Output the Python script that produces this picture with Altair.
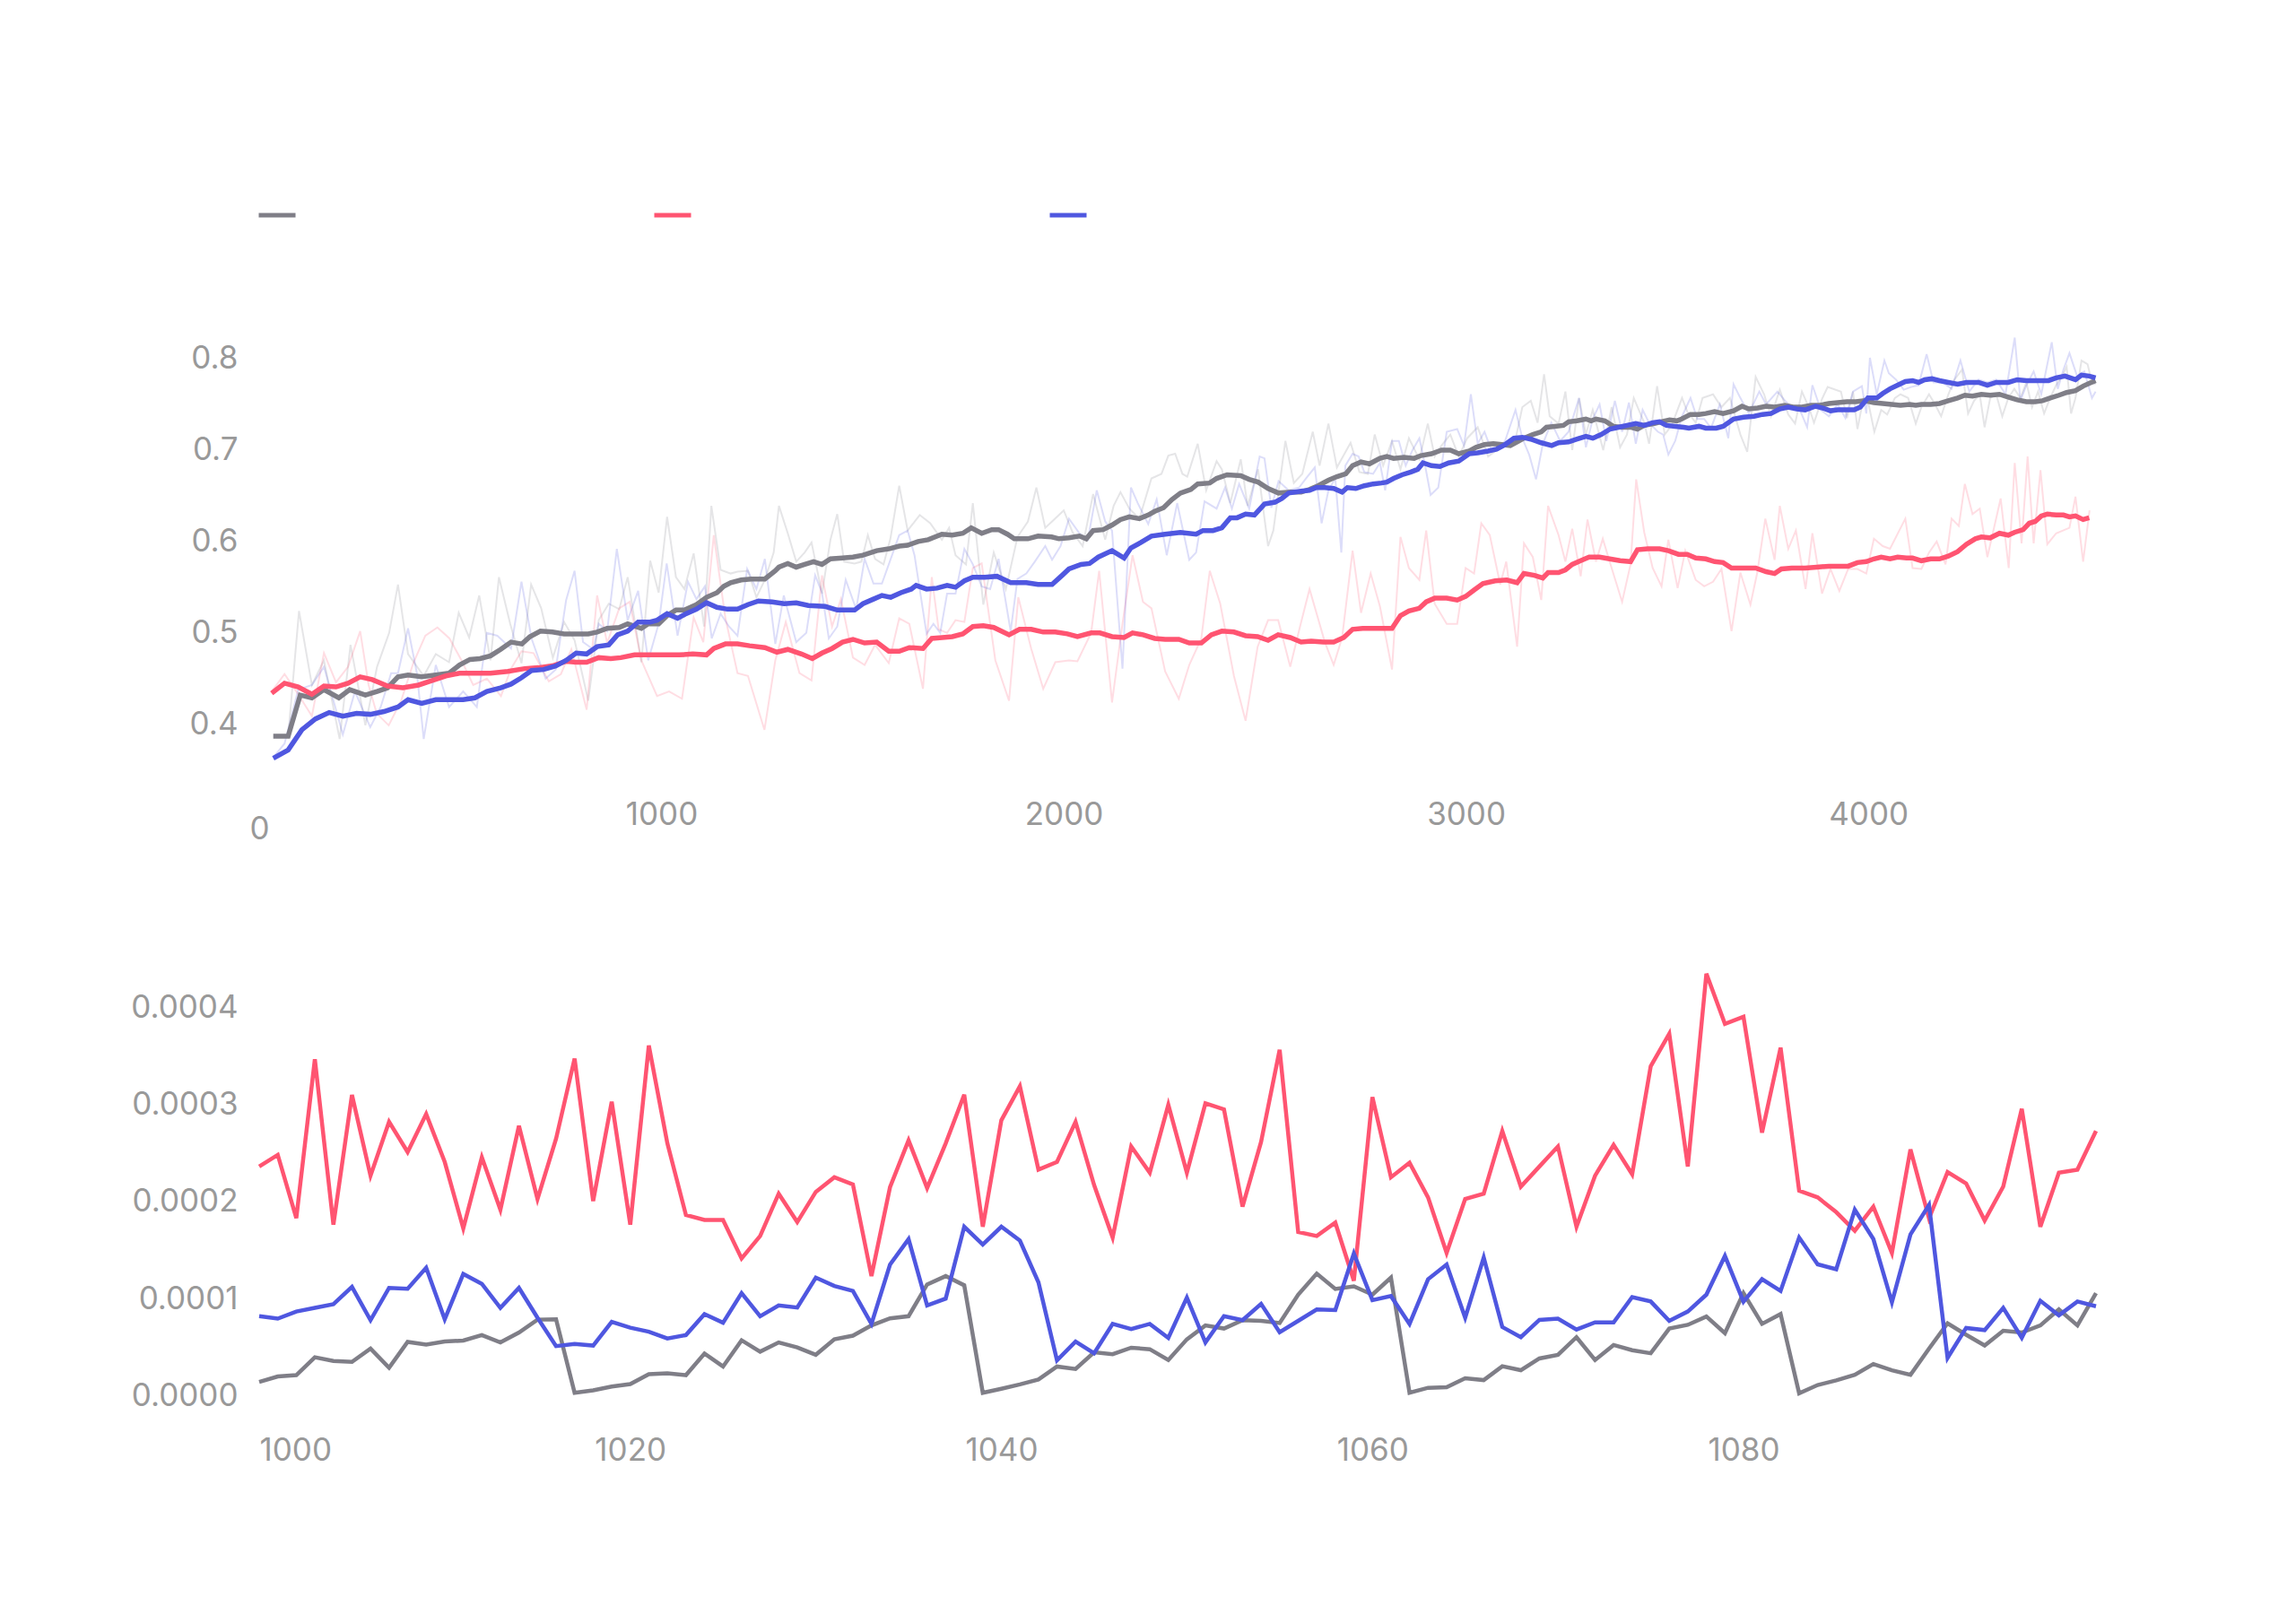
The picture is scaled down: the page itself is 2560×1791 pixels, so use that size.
import altair as alt
import pandas as pd

# ---------------------------------------------------------------------------
# Runs and colours
# ---------------------------------------------------------------------------
RUNS = ["run-1", "run-2", "run-3"]
COLORS = ["#7f7e87", "#ff5471", "#4f57e0"]

# ---------------------------------------------------------------------------
# Top panel: smoothed curves (step, value)
# ---------------------------------------------------------------------------
SMOOTH_1_STEP = [35, 72, 102, 131, 161, 198, 225, 264, 293, 319, 345, 370, 404, 439, 472, 498, 524, 549, 575, 600,
                 626, 653, 673, 699, 729, 758, 788, 818, 840, 865, 895, 916, 950, 967, 993, 1014, 1036, 1057, 1087, 1112,
                 1138, 1155, 1172, 1198, 1223, 1257, 1283, 1292, 1314, 1335, 1356, 1378, 1399, 1420, 1450, 1476, 1501,
                 1535, 1565, 1591, 1612, 1638, 1663, 1697, 1723, 1749, 1770, 1796, 1821, 1838, 1860, 1877, 1911, 1936,
                 1970, 1988, 2013, 2039, 2056, 2073, 2098, 2120, 2141, 2163, 2188, 2210, 2226, 2248, 2269, 2290, 2316,
                 2333, 2363, 2380, 2406, 2440, 2461, 2483, 2508, 2534, 2564, 2590, 2611, 2632, 2658, 2679, 2701, 2718,
                 2739, 2760, 2786, 2803, 2820, 2846, 2871, 2888, 2914, 2939, 2961, 2982, 3008, 3025, 3046, 3068, 3089,
                 3110, 3127, 3144, 3166, 3187, 3200, 3221, 3242, 3255, 3276, 3298, 3311, 3323, 3345, 3366, 3387, 3409,
                 3426, 3443, 3468, 3485, 3506, 3524, 3536, 3558, 3579, 3596, 3618, 3639, 3665, 3686, 3703, 3725, 3746,
                 3767, 3793, 3813, 3835, 3858, 3880, 3902, 3924, 3947, 3969, 3991, 4014, 4036, 4058, 4080, 4103, 4118,
                 4132, 4155, 4177, 4199, 4222, 4240, 4259, 4281, 4303, 4326, 4348, 4370, 4393, 4415, 4433, 4452, 4474,
                 4493, 4515, 4534, 4549, 4565]
SMOOTH_1_VAL = [0.387, 0.387, 0.432, 0.429, 0.438, 0.429, 0.438, 0.432, 0.436, 0.440, 0.452, 0.454, 0.452, 0.454,
                0.456, 0.465, 0.471, 0.472, 0.475, 0.482, 0.490, 0.488, 0.496, 0.502, 0.501, 0.499, 0.499, 0.499,
                0.501, 0.505, 0.506, 0.510, 0.505, 0.510, 0.510, 0.519, 0.525, 0.525, 0.531, 0.539, 0.544, 0.551,
                0.555, 0.558, 0.559, 0.559, 0.568, 0.572, 0.576, 0.572, 0.575, 0.578, 0.575, 0.581, 0.582, 0.583,
                0.585, 0.590, 0.592, 0.595, 0.596, 0.600, 0.602, 0.608, 0.607, 0.609, 0.615, 0.609, 0.613, 0.613,
                0.608, 0.603, 0.603, 0.606, 0.605, 0.603, 0.604, 0.606, 0.603, 0.612, 0.613, 0.618, 0.624, 0.627,
                0.625, 0.629, 0.633, 0.637, 0.646, 0.653, 0.657, 0.663, 0.664, 0.669, 0.673, 0.672, 0.668, 0.665,
                0.658, 0.653, 0.654, 0.654, 0.657, 0.661, 0.667, 0.671, 0.674, 0.683, 0.687, 0.685, 0.691, 0.693,
                0.691, 0.692, 0.691, 0.694, 0.696, 0.700, 0.700, 0.696, 0.699, 0.703, 0.706, 0.707, 0.706, 0.705,
                0.709, 0.713, 0.717, 0.720, 0.725, 0.726, 0.727, 0.731, 0.732, 0.734, 0.732, 0.734, 0.732, 0.726,
                0.725, 0.725, 0.723, 0.727, 0.729, 0.731, 0.733, 0.732, 0.734, 0.739, 0.739, 0.740, 0.742, 0.740,
                0.743, 0.748, 0.745, 0.746, 0.748, 0.747, 0.749, 0.747, 0.747, 0.749, 0.749, 0.751, 0.752, 0.753,
                0.753, 0.754, 0.752, 0.751, 0.750, 0.749, 0.750, 0.749, 0.750, 0.750, 0.751, 0.754, 0.757, 0.760,
                0.759, 0.761, 0.760, 0.761, 0.758, 0.755, 0.753, 0.753, 0.754, 0.757, 0.760, 0.763, 0.765, 0.770,
                0.773, 0.776]

SMOOTH_2_STEP = [31, 63, 97, 131, 161, 191, 221, 251, 281, 319, 357, 396, 430, 464, 498, 541, 575, 618, 660, 694,
                 729, 763, 788, 814, 844, 874, 899, 933, 967, 1002, 1044, 1078, 1112, 1130, 1159, 1189, 1219, 1257,
                 1287, 1314, 1348, 1375, 1399, 1424, 1450, 1476, 1505, 1535, 1565, 1591, 1616, 1650, 1672, 1698, 1723,
                 1749, 1774, 1800, 1826, 1864, 1890, 1919, 1949, 1979, 2009, 2034, 2068, 2090, 2120, 2150, 2171, 2197,
                 2226, 2252, 2286, 2312, 2342, 2367, 2393, 2423, 2452, 2482, 2508, 2533, 2563, 2590, 2615, 2645, 2671,
                 2696, 2718, 2743, 2777, 2816, 2837, 2858, 2884, 2901, 2922, 2952, 2978, 2999, 3020, 3042, 3072, 3101,
                 3127, 3144, 3170, 3191, 3204, 3230, 3247, 3264, 3285, 3306, 3332, 3357, 3383, 3409, 3426, 3452, 3481,
                 3503, 3528, 3550, 3571, 3596, 3618, 3639, 3660, 3690, 3720, 3746, 3767, 3784, 3810, 3843, 3872, 3902,
                 3924, 3950, 3973, 3995, 4014, 4032, 4054, 4073, 4095, 4110, 4132, 4155, 4177, 4199, 4222, 4244, 4266,
                 4281, 4303, 4326, 4348, 4363, 4385, 4400, 4415, 4430, 4445, 4467, 4485, 4500, 4515, 4534, 4549]
SMOOTH_2_VAL = [0.434, 0.445, 0.441, 0.433, 0.442, 0.441, 0.445, 0.452, 0.449, 0.442, 0.440, 0.443, 0.448, 0.453,
                0.456, 0.456, 0.456, 0.458, 0.461, 0.462, 0.464, 0.469, 0.468, 0.468, 0.473, 0.472, 0.473, 0.476,
                0.476, 0.476, 0.476, 0.477, 0.476, 0.483, 0.488, 0.488, 0.486, 0.484, 0.479, 0.482, 0.477, 0.472,
                0.478, 0.483, 0.490, 0.493, 0.489, 0.490, 0.480, 0.480, 0.484, 0.483, 0.494, 0.495, 0.496, 0.499,
                0.507, 0.508, 0.506, 0.498, 0.504, 0.504, 0.501, 0.501, 0.499, 0.496, 0.500, 0.500, 0.496, 0.495,
                0.500, 0.498, 0.494, 0.493, 0.493, 0.489, 0.489, 0.498, 0.502, 0.501, 0.497, 0.496, 0.492, 0.498,
                0.495, 0.490, 0.491, 0.490, 0.490, 0.495, 0.504, 0.505, 0.505, 0.505, 0.519, 0.524, 0.527, 0.534,
                0.538, 0.538, 0.536, 0.540, 0.547, 0.554, 0.557, 0.558, 0.555, 0.565, 0.563, 0.560, 0.566, 0.566,
                0.569, 0.575, 0.579, 0.583, 0.583, 0.581, 0.579, 0.578, 0.591, 0.592, 0.592, 0.590, 0.586, 0.586,
                0.582, 0.581, 0.578, 0.577, 0.571, 0.571, 0.571, 0.567, 0.565, 0.570, 0.571, 0.571, 0.572, 0.573,
                0.573, 0.573, 0.577, 0.578, 0.581, 0.583, 0.581, 0.583, 0.582, 0.582, 0.579, 0.581, 0.581, 0.584,
                0.589, 0.597, 0.603, 0.605, 0.604, 0.609, 0.607, 0.610, 0.613, 0.620, 0.622, 0.628, 0.630, 0.629,
                0.629, 0.627, 0.628, 0.624, 0.626]

SMOOTH_3_STEP = [35, 72, 106, 140, 174, 208, 242, 276, 310, 345, 370, 404, 439, 472, 507, 536, 566, 600, 626, 652,
                 677, 707, 737, 763, 788, 814, 840, 869, 891, 916, 942, 972, 989, 1014, 1040, 1061, 1087, 1112, 1138,
                 1164, 1189, 1215, 1241, 1275, 1305, 1335, 1365, 1407, 1437, 1480, 1501, 1527, 1548, 1570, 1595, 1621,
                 1633, 1659, 1685, 1710, 1731, 1753, 1774, 1804, 1834, 1868, 1907, 1936, 1971, 1996, 2013, 2043, 2064,
                 2086, 2120, 2150, 2167, 2192, 2218, 2252, 2290, 2329, 2346, 2371, 2393, 2414, 2431, 2452, 2474, 2499,
                 2525, 2542, 2559, 2590, 2611, 2628, 2649, 2671, 2692, 2705, 2726, 2747, 2769, 2790, 2803, 2820, 2841,
                 2863, 2880, 2893, 2914, 2935, 2957, 2982, 3008, 3029, 3055, 3076, 3097, 3119, 3140, 3161, 3187, 3213,
                 3230, 3255, 3276, 3298, 3315, 3336, 3358, 3379, 3400, 3422, 3443, 3464, 3481, 3498, 3520, 3541, 3554,
                 3579, 3596, 3622, 3639, 3665, 3690, 3716, 3737, 3758, 3780, 3801, 3822, 3843, 3869, 3887, 3906, 3924,
                 3947, 3965, 3980, 3999, 4021, 4036, 4054, 4073, 4092, 4110, 4125, 4140, 4158, 4177, 4199, 4222, 4244,
                 4274, 4296, 4318, 4348, 4370, 4393, 4407, 4430, 4448, 4467, 4489, 4515, 4530, 4549, 4565]
SMOOTH_3_VAL = [0.363, 0.372, 0.394, 0.406, 0.413, 0.409, 0.412, 0.411, 0.414, 0.419, 0.427, 0.423, 0.427, 0.427,
                0.427, 0.429, 0.436, 0.440, 0.444, 0.451, 0.459, 0.460, 0.464, 0.470, 0.478, 0.477, 0.485, 0.487,
                0.498, 0.502, 0.512, 0.512, 0.514, 0.521, 0.516, 0.521, 0.526, 0.533, 0.528, 0.526, 0.526, 0.531,
                0.535, 0.534, 0.532, 0.533, 0.530, 0.529, 0.525, 0.525, 0.532, 0.537, 0.541, 0.539, 0.544, 0.548,
                0.552, 0.548, 0.549, 0.552, 0.550, 0.557, 0.561, 0.561, 0.562, 0.555, 0.555, 0.553, 0.553, 0.563,
                0.570, 0.575, 0.576, 0.583, 0.590, 0.582, 0.593, 0.599, 0.606, 0.608, 0.610, 0.608, 0.612, 0.612,
                0.615, 0.626, 0.626, 0.630, 0.629, 0.641, 0.643, 0.647, 0.653, 0.655, 0.656, 0.659, 0.659, 0.658,
                0.654, 0.659, 0.658, 0.661, 0.663, 0.664, 0.665, 0.669, 0.673, 0.676, 0.679, 0.686, 0.683, 0.682,
                0.686, 0.688, 0.696, 0.697, 0.699, 0.701, 0.706, 0.713, 0.714, 0.712, 0.708, 0.705, 0.708, 0.709,
                0.712, 0.715, 0.713, 0.717, 0.723, 0.725, 0.727, 0.729, 0.727, 0.730, 0.731, 0.727, 0.726, 0.725,
                0.724, 0.726, 0.724, 0.724, 0.726, 0.734, 0.736, 0.737, 0.739, 0.740, 0.745, 0.747, 0.745, 0.744,
                0.748, 0.746, 0.743, 0.744, 0.744, 0.744, 0.747, 0.757, 0.757, 0.762, 0.767, 0.771, 0.775, 0.776,
                0.774, 0.777, 0.778, 0.776, 0.774, 0.772, 0.774, 0.774, 0.771, 0.774, 0.774, 0.777, 0.776, 0.776,
                0.776, 0.776, 0.779, 0.781, 0.777, 0.782, 0.781, 0.779]

# ---------------------------------------------------------------------------
# Top panel: raw (unsmoothed) values (step, value)
# ---------------------------------------------------------------------------
RAW_1_STEP = [39, 72, 99, 131, 161, 200, 227, 264, 293, 323, 345, 370, 409, 439, 472, 496, 522, 547, 575, 596, 624,
              652, 676, 701, 730, 758, 784, 818, 844, 869, 895, 916, 950, 972, 993, 1014, 1036, 1057, 1080, 1106, 1124,
              1147, 1172, 1189, 1215, 1236, 1257, 1279, 1292, 1314, 1335, 1356, 1373, 1399, 1420, 1437, 1454, 1480,
              1497, 1513, 1531, 1552, 1569, 1591, 1612, 1642, 1668, 1697, 1715, 1731, 1757, 1774, 1800, 1826, 1856,
              1885, 1911, 1932, 1954, 1971, 2000, 2022, 2047, 2073, 2103, 2124, 2141, 2163, 2188, 2218, 2243, 2260,
              2277, 2295, 2307, 2333, 2354, 2380, 2393, 2414, 2440, 2457, 2483, 2508, 2521, 2551, 2572, 2593, 2619,
              2636, 2658, 2679, 2713, 2735, 2756, 2773, 2794, 2816, 2837, 2858, 2884, 2905, 2922, 2939, 2961, 2982,
              3003, 3029, 3055, 3076, 3097, 3123, 3140, 3161, 3178, 3194, 3208, 3230, 3247, 3264, 3281, 3298, 3315,
              3341, 3362, 3383, 3400, 3417, 3443, 3455, 3475, 3494, 3511, 3537, 3550, 3571, 3588, 3614, 3635, 3656,
              3682, 3699, 3720, 3741, 3758, 3780, 3801, 3818, 3835, 3852, 3865, 3885, 3899, 3932, 3947, 3962, 3973,
              3988, 3999, 4015, 4032, 4047, 4066, 4080, 4099, 4118, 4132, 4151, 4166, 4181, 4199, 4214, 4233, 4248,
              4263, 4277, 4289, 4303, 4318, 4333, 4348, 4363, 4378, 4393, 4407, 4422, 4437, 4452, 4467, 4482, 4493,
              4504, 4515, 4530, 4545, 4556, 4565]
RAW_1_VAL = [0.387, 0.387, 0.524, 0.443, 0.470, 0.384, 0.487, 0.399, 0.463, 0.500, 0.553, 0.477, 0.453, 0.477, 0.468,
             0.522, 0.495, 0.541, 0.470, 0.561, 0.510, 0.467, 0.553, 0.527, 0.473, 0.512, 0.492, 0.426, 0.514, 0.532,
             0.526, 0.561, 0.468, 0.579, 0.544, 0.627, 0.561, 0.548, 0.587, 0.507, 0.639, 0.569, 0.565, 0.567, 0.568,
             0.539, 0.558, 0.588, 0.639, 0.609, 0.578, 0.588, 0.599, 0.543, 0.602, 0.630, 0.578, 0.576, 0.578, 0.607,
             0.581, 0.575, 0.603, 0.661, 0.612, 0.629, 0.620, 0.602, 0.615, 0.585, 0.575, 0.642, 0.531, 0.588, 0.548,
             0.605, 0.622, 0.659, 0.615, 0.622, 0.634, 0.610, 0.595, 0.652, 0.602, 0.639, 0.654, 0.636, 0.625, 0.669,
             0.674, 0.694, 0.696, 0.674, 0.671, 0.707, 0.656, 0.688, 0.679, 0.642, 0.690, 0.639, 0.679, 0.595, 0.612,
             0.710, 0.664, 0.674, 0.720, 0.683, 0.729, 0.681, 0.708, 0.676, 0.674, 0.717, 0.683, 0.710, 0.679, 0.713,
             0.690, 0.729, 0.693, 0.705, 0.717, 0.693, 0.713, 0.725, 0.693, 0.700, 0.707, 0.712, 0.747, 0.754, 0.730,
             0.783, 0.737, 0.729, 0.764, 0.700, 0.757, 0.717, 0.744, 0.700, 0.747, 0.703, 0.717, 0.757, 0.730, 0.707,
             0.770, 0.717, 0.727, 0.757, 0.742, 0.730, 0.757, 0.761, 0.747, 0.757, 0.717, 0.698, 0.780, 0.761, 0.737,
             0.766, 0.739, 0.729, 0.764, 0.747, 0.730, 0.756, 0.769, 0.764, 0.735, 0.764, 0.723, 0.757, 0.754, 0.720,
             0.744, 0.739, 0.757, 0.761, 0.757, 0.729, 0.747, 0.761, 0.750, 0.737, 0.761, 0.777, 0.788, 0.740, 0.754,
             0.761, 0.725, 0.757, 0.761, 0.737, 0.757, 0.767, 0.757, 0.774, 0.747, 0.764, 0.740, 0.757, 0.771, 0.781,
             0.791, 0.740, 0.757, 0.798, 0.794, 0.774, 0.772]

RAW_2_STEP = [31, 63, 97, 131, 161, 191, 221, 251, 272, 292, 322, 353, 383, 413, 443, 473, 503, 532, 566, 601, 626,
              652, 682, 720, 750, 776, 814, 840, 865, 895, 921, 950, 989, 1019, 1051, 1080, 1104, 1130, 1159, 1189,
              1215, 1256, 1283, 1309, 1343, 1373, 1399, 1424, 1446, 1476, 1505, 1531, 1565, 1591, 1616, 1650, 1672,
              1689, 1710, 1731, 1753, 1774, 1796, 1830, 1864, 1887, 1919, 1949, 1979, 2013, 2034, 2068, 2088, 2120,
              2146, 2171, 2197, 2218, 2252, 2286, 2312, 2342, 2363, 2389, 2423, 2452, 2482, 2508, 2533, 2563, 2589,
              2611, 2632, 2649, 2671, 2692, 2718, 2739, 2763, 2786, 2816, 2837, 2858, 2884, 2901, 2922, 2952, 2978,
              2999, 3020, 3038, 3059, 3085, 3100, 3127, 3144, 3166, 3187, 3204, 3230, 3247, 3264, 3285, 3302, 3323,
              3340, 3357, 3388, 3409, 3423, 3443, 3464, 3486, 3503, 3526, 3545, 3571, 3592, 3614, 3635, 3660, 3682,
              3707, 3724, 3744, 3767, 3780, 3801, 3820, 3844, 3861, 3885, 3906, 3928, 3950, 3973, 3995, 4014, 4036,
              4054, 4092, 4110, 4132, 4151, 4170, 4192, 4207, 4225, 4240, 4259, 4277, 4296, 4329, 4349, 4364, 4381,
              4396, 4411, 4428, 4445, 4467, 4500, 4515, 4534, 4550]
RAW_2_VAL = [0.436, 0.455, 0.433, 0.409, 0.478, 0.446, 0.463, 0.502, 0.443, 0.412, 0.399, 0.426, 0.467, 0.497, 0.506,
             0.494, 0.470, 0.443, 0.450, 0.431, 0.461, 0.480, 0.478, 0.447, 0.455, 0.482, 0.416, 0.541, 0.489, 0.527,
             0.534, 0.470, 0.431, 0.436, 0.428, 0.517, 0.490, 0.607, 0.516, 0.456, 0.453, 0.394, 0.470, 0.512, 0.456,
             0.448, 0.563, 0.507, 0.537, 0.473, 0.465, 0.487, 0.467, 0.516, 0.510, 0.439, 0.561, 0.504, 0.500, 0.514,
             0.512, 0.571, 0.576, 0.470, 0.426, 0.539, 0.483, 0.439, 0.468, 0.470, 0.469, 0.500, 0.568, 0.424, 0.510,
             0.585, 0.534, 0.527, 0.458, 0.428, 0.465, 0.494, 0.568, 0.532, 0.453, 0.404, 0.485, 0.514, 0.514, 0.463,
             0.510, 0.548, 0.516, 0.490, 0.465, 0.495, 0.590, 0.522, 0.565, 0.529, 0.460, 0.605, 0.571, 0.558, 0.612,
             0.532, 0.510, 0.510, 0.571, 0.565, 0.620, 0.607, 0.553, 0.578, 0.485, 0.598, 0.583, 0.536, 0.639, 0.607,
             0.578, 0.614, 0.562, 0.624, 0.578, 0.603, 0.578, 0.534, 0.575, 0.668, 0.610, 0.571, 0.551, 0.602, 0.549,
             0.590, 0.558, 0.551, 0.556, 0.570, 0.502, 0.566, 0.531, 0.566, 0.625, 0.580, 0.639, 0.592, 0.612, 0.548,
             0.609, 0.543, 0.570, 0.546, 0.570, 0.570, 0.565, 0.603, 0.595, 0.592, 0.625, 0.571, 0.570, 0.588, 0.600,
             0.575, 0.625, 0.617, 0.663, 0.630, 0.636, 0.583, 0.647, 0.571, 0.686, 0.598, 0.693, 0.598, 0.678, 0.597,
             0.609, 0.615, 0.649, 0.578, 0.634]

RAW_3_STEP = [37, 63, 97, 131, 161, 191, 208, 238, 276, 302, 328, 345, 370, 392, 409, 439, 472, 507, 541, 566, 592,
              626, 652, 677, 712, 737, 763, 784, 805, 831, 844, 865, 889, 916, 942, 967, 993, 1013, 1040, 1066, 1087,
              1108, 1125, 1147, 1168, 1189, 1213, 1236, 1257, 1283, 1304, 1335, 1360, 1382, 1399, 1416, 1437, 1458,
              1484, 1505, 1527, 1548, 1574, 1591, 1612, 1629, 1659, 1676, 1693, 1710, 1731, 1753, 1774, 1796, 1817,
              1838, 1868, 1885, 1907, 1928, 1954, 1971, 1992, 2013, 2039, 2060, 2082, 2103, 2120, 2146, 2167, 2184,
              2210, 2231, 2256, 2282, 2312, 2329, 2350, 2380, 2401, 2418, 2436, 2461, 2487, 2499, 2516, 2534, 2559,
              2585, 2602, 2624, 2641, 2658, 2675, 2690, 2700, 2718, 2733, 2747, 2769, 2786, 2799, 2816, 2833, 2850,
              2867, 2884, 2897, 2912, 2931, 2952, 2978, 2995, 3012, 3029, 3046, 3063, 3080, 3097, 3123, 3140, 3157,
              3174, 3191, 3212, 3234, 3255, 3281, 3298, 3315, 3332, 3349, 3370, 3388, 3405, 3422, 3439, 3455, 3477,
              3490, 3503, 3520, 3537, 3558, 3575, 3592, 3609, 3631, 3652, 3665, 3682, 3703, 3729, 3746, 3774, 3793,
              3810, 3827, 3848, 3861, 3882, 3902, 3924, 3943, 3962, 3984, 3995, 4004, 4021, 4040, 4051, 4069, 4088,
              4106, 4125, 4145, 4162, 4185, 4207, 4229, 4251, 4274, 4296, 4318, 4341, 4364, 4378, 4393, 4411, 4430,
              4456, 4471, 4485, 4500, 4519, 4537, 4556, 4565]
RAW_3_VAL = [0.365, 0.379, 0.438, 0.443, 0.463, 0.416, 0.389, 0.436, 0.397, 0.419, 0.456, 0.456, 0.505, 0.456, 0.384,
             0.465, 0.419, 0.436, 0.419, 0.500, 0.497, 0.483, 0.556, 0.494, 0.450, 0.460, 0.536, 0.568, 0.490, 0.482,
             0.510, 0.502, 0.592, 0.514, 0.546, 0.470, 0.510, 0.576, 0.497, 0.556, 0.537, 0.551, 0.494, 0.521, 0.507,
             0.497, 0.570, 0.548, 0.581, 0.488, 0.541, 0.490, 0.500, 0.563, 0.544, 0.494, 0.507, 0.558, 0.526, 0.581,
             0.554, 0.554, 0.586, 0.607, 0.612, 0.585, 0.499, 0.510, 0.500, 0.543, 0.543, 0.592, 0.575, 0.551, 0.548,
             0.581, 0.502, 0.559, 0.565, 0.578, 0.595, 0.580, 0.595, 0.625, 0.609, 0.602, 0.656, 0.622, 0.612, 0.461,
             0.659, 0.642, 0.619, 0.646, 0.585, 0.642, 0.580, 0.588, 0.644, 0.636, 0.659, 0.636, 0.663, 0.636, 0.693,
             0.691, 0.637, 0.666, 0.656, 0.659, 0.669, 0.681, 0.620, 0.656, 0.669, 0.588, 0.683, 0.696, 0.693, 0.676,
             0.674, 0.686, 0.656, 0.710, 0.710, 0.683, 0.700, 0.713, 0.686, 0.651, 0.659, 0.720, 0.723, 0.705, 0.761,
             0.707, 0.720, 0.700, 0.703, 0.710, 0.744, 0.713, 0.695, 0.668, 0.707, 0.730, 0.710, 0.720, 0.757, 0.703,
             0.734, 0.750, 0.710, 0.754, 0.720, 0.752, 0.707, 0.744, 0.730, 0.720, 0.717, 0.695, 0.710, 0.737, 0.757,
             0.734, 0.734, 0.724, 0.750, 0.713, 0.772, 0.757, 0.740, 0.764, 0.750, 0.764, 0.754, 0.747, 0.747, 0.725,
             0.771, 0.744, 0.737, 0.750, 0.735, 0.764, 0.770, 0.740, 0.801, 0.761, 0.798, 0.784, 0.777, 0.766, 0.769,
             0.771, 0.805, 0.774, 0.774, 0.767, 0.798, 0.764, 0.777, 0.774, 0.777, 0.761, 0.823, 0.754, 0.771, 0.786,
             0.761, 0.818, 0.767, 0.788, 0.806, 0.781, 0.786, 0.757, 0.764]

# ---------------------------------------------------------------------------
# Bottom panel: per-step values (x 1e-4), steps 1000..1099
# ---------------------------------------------------------------------------
STEP_START = 1000
DETAIL_1 = [0.140, 0.197, 0.210, 0.394, 0.356, 0.347, 0.483, 0.286, 0.553, 0.525, 0.556, 0.566, 0.623, 0.547, 0.649,
            0.782, 0.785, 0.029, 0.054, 0.093, 0.118, 0.220, 0.229, 0.210, 0.433, 0.299, 0.569, 0.452, 0.547, 0.496,
            0.420, 0.579, 0.617, 0.722, 0.795, 0.817, 1.144, 1.230, 1.135, 0.029, 0.070, 0.115, 0.166, 0.299, 0.274,
            0.445, 0.426, 0.493, 0.477, 0.366, 0.579, 0.722, 0.690, 0.776, 0.769, 0.747, 1.039, 1.255, 1.097, 1.125,
            1.039, 1.214, 0.029, 0.080, 0.086, 0.178, 0.159, 0.302, 0.261, 0.382, 0.420, 0.601, 0.366, 0.521, 0.467,
            0.436, 0.690, 0.728, 0.814, 0.642, 1.055, 0.738, 0.839, 0.023, 0.109, 0.156, 0.213, 0.325, 0.261, 0.213,
            0.483, 0.744, 0.626, 0.515, 0.668, 0.649, 0.722, 0.887, 0.722, 1.055]
DETAIL_2 = [2.358, 2.478, 1.827, 3.463, 1.760, 3.095, 2.263, 2.818, 2.507, 2.898, 2.405, 1.722, 2.453, 1.913, 2.777,
            2.024, 2.644, 3.470, 2.002, 3.025, 1.760, 3.603, 2.596, 1.859, 1.808, 1.808, 1.411, 1.643, 2.078, 1.786,
            2.097, 2.247, 2.174, 1.230, 2.145, 2.628, 2.136, 2.596, 3.098, 1.738, 2.834, 3.184, 2.326, 2.405, 2.818,
            2.167, 1.627, 2.564, 2.294, 2.993, 2.294, 3.009, 2.946, 1.945, 2.612, 3.559, 1.684, 1.643, 1.780, 1.182,
            3.073, 2.247, 2.396, 2.040, 1.468, 2.024, 2.078, 2.723, 2.151, 2.358, 2.564, 1.738, 2.263, 2.580, 2.278,
            3.390, 3.724, 2.358, 4.343, 3.826, 3.899, 2.707, 3.581, 2.110, 2.040, 1.888, 1.697, 1.945, 1.468, 2.533,
            1.824, 2.301, 2.183, 1.802, 2.151, 2.952, 1.738, 2.294, 2.326, 2.723]
DETAIL_3 = [0.817, 0.792, 0.865, 0.903, 0.941, 1.119, 0.776, 1.109, 1.100, 1.316, 0.785, 1.252, 1.151, 0.903, 1.109,
            0.801, 0.509, 0.531, 0.515, 0.760, 0.699, 0.658, 0.588, 0.623, 0.839, 0.750, 1.055, 0.817, 0.928, 0.906,
            1.214, 1.128, 1.077, 0.738, 1.348, 1.611, 0.928, 0.998, 1.738, 1.554, 1.738, 1.595, 1.166, 0.363, 0.556,
            0.436, 0.738, 0.684, 0.738, 0.594, 1.008, 0.547, 0.817, 0.776, 0.944, 0.652, 0.769, 0.887, 0.881, 1.462,
            0.982, 1.024, 0.738, 1.198, 1.348, 0.801, 1.421, 0.706, 0.601, 0.779, 0.792, 0.680, 0.753, 0.753, 1.014,
            0.969, 0.769, 0.865, 1.039, 1.437, 0.966, 1.198, 1.077, 1.627, 1.351, 1.300, 1.913, 1.611, 0.960, 1.659,
            1.961, 0.388, 0.696, 0.674, 0.903, 0.594, 0.976, 0.826, 0.969, 0.919]

TOP_X_TICKS = [0, 1000, 2000, 3000, 4000]
TOP_Y_TICKS = [0.4, 0.5, 0.6, 0.7, 0.8]
BOTTOM_X_TICKS = [1000, 1020, 1040, 1060, 1080]
BOTTOM_Y_TICKS = [0.0, 0.0001, 0.0002, 0.0003, 0.0004]


def long_frame(pairs):
    rows = []
    for run, steps, vals in pairs:
        rows.extend({"run": run, "step": s, "value": v} for s, v in zip(steps, vals))
    return pd.DataFrame(rows)


smooth_df = long_frame([
    (RUNS[0], SMOOTH_1_STEP, SMOOTH_1_VAL),
    (RUNS[1], SMOOTH_2_STEP, SMOOTH_2_VAL),
    (RUNS[2], SMOOTH_3_STEP, SMOOTH_3_VAL),
])
raw_df = long_frame([
    (RUNS[0], RAW_1_STEP, RAW_1_VAL),
    (RUNS[1], RAW_2_STEP, RAW_2_VAL),
    (RUNS[2], RAW_3_STEP, RAW_3_VAL),
])
steps = list(range(STEP_START, STEP_START + len(DETAIL_1)))
detail_df = long_frame([
    (RUNS[0], steps, [v * 1e-4 for v in DETAIL_1]),
    (RUNS[1], steps, [v * 1e-4 for v in DETAIL_2]),
    (RUNS[2], steps, [v * 1e-4 for v in DETAIL_3]),
])

color_scale = alt.Scale(domain=RUNS, range=COLORS)

# swatch-only legend, shared by both layers of the top panel so they merge
run_legend = alt.Legend(
    orient="none", legendX=-3, legendY=-132, direction="horizontal", columns=3,
    title=None, labelExpr="''", labelOffset=0, labelFontSize=10, columnPadding=379,
    symbolType="stroke", symbolSize=1681, symbolStrokeWidth=5, symbolOpacity=1,
)
run_color = alt.Color("run:N", scale=color_scale, legend=run_legend)

top_x = alt.X(
    "step:Q", scale=alt.Scale(domain=[0, 4566], nice=False, zero=False), title=None,
    axis=alt.Axis(
        values=TOP_X_TICKS, format="d", labelFlush=False,
        # the origin label sits a little lower than the others
        labelPadding={"condition": {"test": "datum.value == 0", "value": 38}, "value": 22},
    ),
)
top_y = alt.Y("value:Q", scale=alt.Scale(domain=[0.34, 0.85], nice=False, zero=False),
              axis=alt.Axis(values=TOP_Y_TICKS, format=".1f"), title=None)

raw_layer = alt.Chart(raw_df).mark_line(strokeWidth=2, opacity=0.2).encode(
    x=top_x, y=top_y, color=run_color, order=alt.Order("step:Q"),
)
smooth_layer = alt.Chart(smooth_df).mark_line(strokeWidth=5.5).encode(
    x=top_x, y=top_y, color=run_color, order=alt.Order("step:Q"),
)
top = alt.layer(raw_layer, smooth_layer).properties(width=2048, height=520)

bottom = alt.Chart(detail_df).mark_line(strokeWidth=4.5).encode(
    x=alt.X("step:Q", scale=alt.Scale(domain=[1000, 1099], nice=False, zero=False),
            axis=alt.Axis(values=BOTTOM_X_TICKS, format="d", labelFlush=True), title=None),
    y=alt.Y("value:Q", scale=alt.Scale(domain=[-0.00002, 0.00046], nice=False, zero=False),
            axis=alt.Axis(values=BOTTOM_Y_TICKS, format=".4f"), title=None),
    color=alt.Color("run:N", scale=color_scale, legend=None),
    order=alt.Order("step:Q"),
).properties(width=2048, height=520)

chart = (
    alt.vconcat(top, bottom, spacing=116)
    .resolve_legend(color="independent")
    .properties(padding={"left": 145, "top": 217, "right": 40, "bottom": 40}, background="white")
    .configure_view(stroke=None)
    .configure_axis(
        labelFont="Inter", labelFontSize=35, labelColor="#999999",
        domain=False, ticks=False, tickSize=0, grid=False,
    )
    .configure_axisX(labelPadding=22)
    .configure_axisY(labelPadding=24)
)

chart.save("out.html", embed_options={"renderer": "svg", "actions": False})
